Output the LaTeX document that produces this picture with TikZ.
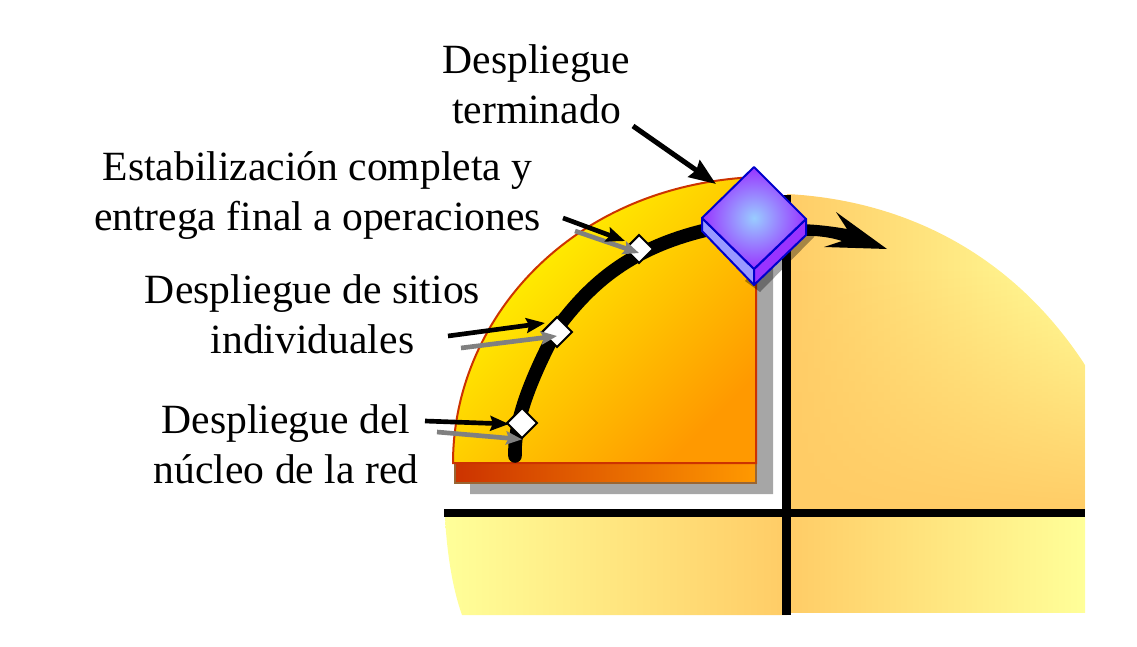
\documentclass[tikz,border=0pt]{standalone}
\usepackage{fontspec}
\setmainfont{Liberation Serif}
\usetikzlibrary{arrows.meta}
\usetikzlibrary{shapes.geometric}
\usetikzlibrary{fadings}

\definecolor{paleYellow}{HTML}{FFFF99}
\definecolor{paleOrange}{HTML}{FFCC66}
\definecolor{edgeRed}{HTML}{CC3300}
\definecolor{edgeBrown}{HTML}{996633}
\definecolor{shadowGray}{HTML}{A6A6A6}
\definecolor{faceBlue}{HTML}{0000CC}
\definecolor{quarterLight}{HTML}{FFFF00}
\definecolor{quarterDark}{HTML}{FF9900}

\tikzset{
  label/.style={align=center,font=\fontsize{31.2}{37.5}\selectfont},
  milestone/.style={diamond,draw=black,fill=white,line width=1.5pt,inner sep=0pt,minimum size=#1},
  leaderBlack/.style={draw=black,line width=3.5pt,-{Stealth[length=14pt,width=11pt,inset=2pt]}},
  leaderGray/.style={draw=gray,line width=3.5pt,-{Stealth[length=12pt,width=10pt,inset=2pt]}},
  axisLine/.style={line width=6.4pt,black}
}

\begin{document}
\begin{tikzpicture}[x=0.75pt,y=-0.75pt]

  \useasboundingbox (0,0) rectangle (1137,646);

  % Position of the axes
  \coordinate (axisL) at (444,513);
  \coordinate (axisR) at (1085,513);
  \coordinate (axisT) at (786.5,195);
  \coordinate (axisB) at (786.5,615);

  % Faded quadrants behind the axes
  \begin{scope}
    \clip (787,194) .. controls (900,200) and (1010,250) .. (1085,365) -- (1085,513) -- (787,513) -- cycle;
    \shade[left color=paleOrange,right color=paleYellow] (787,194) rectangle (1085,513);
    \fill[paleOrange,path fading=north] (787,270) rectangle (1085,513);
  \end{scope}
  \shade[left color=paleYellow,right color=paleOrange]
    (445,517) .. controls (447,555) and (453,590) .. (462,615) -- (787,615) -- (787,517) -- cycle;
  \shade[left color=paleOrange,right color=paleYellow]
    (787,517) rectangle (1085,612);
  \draw[axisLine] (axisL) -- (axisR);
  \draw[axisLine,line width=6.8pt] (axisT) -- (axisB);

  % Raised quarter with its shadow
  \fill[shadowGray] (470,483) -- (756,483) -- (756,260) -- (773,260) -- (773,494) -- (470,494) -- cycle;
  \shade[left color=edgeRed,right color=quarterDark,draw=edgeBrown,line width=1.5pt]
    (455,463) rectangle (756,483);
  \shade[left color=quarterLight,right color=quarterDark,shading angle=45,draw=edgeRed,line width=1.5pt]
    (453,463) .. controls (453,320) and (570,185) .. (756,177) -- (756,463) -- cycle;

  % Rollout curve
  \draw[line width=10.2pt,line cap=round] (515,456)
    .. controls (514,425) and (527,385) .. (558,327)
    .. controls (590,285) and (630,245) .. (720,227);

  % Arrow leaving the block
  \fill (795,224) .. controls (812,224) and (830,226) .. (847,229) -- (836,212) -- (887,249)
    -- (824,247) -- (842,241) .. controls (830,237) and (815,235) .. (795,236) -- cycle;

  % Finished block
  \fill[black,opacity=0.35] (790,224) -- (814,229) -- (814,237) -- (760,292) -- (745,281) -- cycle;
  \coordinate (blockT) at (754,167);
  \coordinate (blockL) at (702,218);
  \coordinate (blockR) at (806,219);
  \coordinate (blockF) at (754,269);
  \coordinate (blockLb) at (702,231);
  \coordinate (blockRb) at (806,235);
  \coordinate (blockB) at (754,285);
  \filldraw[draw=faceBlue,fill={rgb,255:red,153;green,153;blue,255},line width=1.5pt,line join=round]
    (blockL) -- (blockF) -- (blockB) -- (blockLb) -- cycle;
  \filldraw[draw=faceBlue,fill={rgb,255:red,153;green,51;blue,255},line width=1.5pt,line join=round]
    (blockR) -- (blockF) -- (blockB) -- (blockRb) -- cycle;
  \shade[inner color={rgb,255:red,153;green,204;blue,255},outer color={rgb,255:red,153;green,51;blue,255},draw=faceBlue,line width=1.5pt,line join=round]
    (blockT) -- (blockR) -- (blockF) -- (blockL) -- cycle;

  % Milestones on the curve
  \node[milestone=21.5pt] (markFinal) at (639,249) {};
  \node[milestone=23pt]   (markSite)  at (557,332) {};
  \node[milestone=23pt]   (markCore)  at (522,423) {};

  % Free ends of the leaders
  \coordinate (fromDone)   at (633,126);
  \coordinate (toDone)     at (716,184);
  \coordinate (fromFinal)  at (563,218);
  \coordinate (toFinal)    at (625,241);
  \coordinate (shFinal)    at (575,231);
  \coordinate (shFinalEnd) at (639,253);
  \coordinate (fromSite)   at (448,336);
  \coordinate (toSite)     at (545,323);
  \coordinate (shSite)     at (461,348);
  \coordinate (shSiteEnd)  at (557,336);
  \coordinate (fromCore)   at (425,421);
  \coordinate (toCore)     at (509,424);
  \coordinate (shCore)     at (437,432);

  \draw[leaderGray]  (shFinal) -- (shFinalEnd);
  \draw[leaderGray]  (shSite)  -- (shSiteEnd);
  \draw[leaderGray]  (shCore)  -- (markCore.south);
  \draw[leaderBlack,-{Stealth[length=20pt,width=15pt,inset=2pt]},line width=3.8pt] (fromDone) -- (toDone);
  \draw[leaderBlack] (fromFinal) -- (toFinal);
  \draw[leaderBlack] (fromSite)  -- (toSite);
  \draw[leaderBlack] (fromCore)  -- (toCore);

  % Labels
  \node[label] (txtDone)  at (536.5,84) {Despliegue\\terminado};
  \node[label] (txtFinal) at (317.5,196) {Estabilización completa y\\entrega final a operaciones};
  \node[label] (txtSite)  at (312.5,314) {Despliegue de sitios\\individuales};
  \node[label] (txtCore)  at (286,444) {Despliegue del\\núcleo de la red};

\end{tikzpicture}
\end{document}
